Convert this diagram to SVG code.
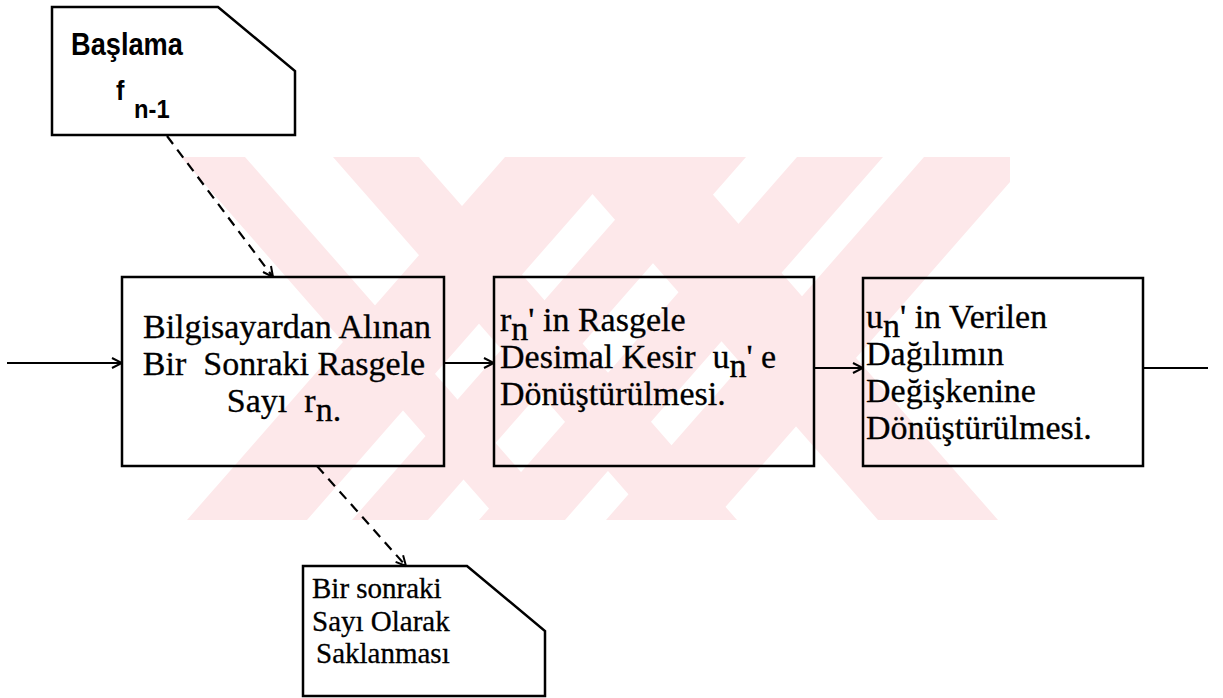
<svg xmlns="http://www.w3.org/2000/svg" width="1223" height="698" viewBox="0 0 1223 698">
<style>
.box{fill:none;stroke:#000;stroke-width:2.5}
.ln{fill:none;stroke:#000;stroke-width:2.2}
.dash{fill:none;stroke:#000;stroke-width:2.2;stroke-dasharray:10 7}
.t{font-family:"Liberation Serif","Times New Roman",serif;font-size:34px;fill:#000;stroke:#000;stroke-width:0.3;white-space:pre}
.t2{font-family:"Liberation Serif","Times New Roman",serif;font-size:29px;fill:#000;stroke:#000;stroke-width:0.3;white-space:pre}
.b{font-family:"Liberation Sans Narrow","Liberation Sans",Arial,sans-serif;font-weight:bold;fill:#000}
.wm{fill:#fde8ea}
</style>
<defs>
<marker id="arr" viewBox="0 0 12 12" refX="11" refY="6" markerWidth="12" markerHeight="12" markerUnits="userSpaceOnUse" orient="auto">
<path d="M1,1 L11,6 L1,11" fill="none" stroke="#000" stroke-width="2"/>
</marker>
<clipPath id="wmclip"><rect x="160" y="157" width="850" height="363"/></clipPath>
</defs>
<rect width="1223" height="698" fill="#fff"/>
<g id="watermark" clip-path="url(#wmclip)">
<polygon class="wm" points="181,157 245,157 563,520 499,520"/>
<polygon class="wm" points="333,157 419,157 737,520 651,520"/>
<polygon class="wm" points="505,157 625,157 307,520 187,520"/>
<polygon class="wm" points="670,157 746,157 428,520 352,520"/>
<polygon class="wm" points="797,157 883,157 565,520 479,520"/>
<polygon class="wm" points="924,157 1032,157 714,520 606,520"/>
<polygon class="wm" points="560,157 680,157 998,520 878,520"/>
</g>
<g id="connectors">
<line class="ln" x1="7" y1="363" x2="122" y2="363" marker-end="url(#arr)"/>
<line class="ln" x1="444" y1="363" x2="494" y2="363" marker-end="url(#arr)"/>
<line class="ln" x1="814" y1="368" x2="863" y2="368" marker-end="url(#arr)"/>
<line class="ln" x1="1143" y1="368" x2="1208" y2="368"/>
<line class="dash" x1="167" y1="136" x2="273" y2="277" marker-end="url(#arr)"/>
<line class="dash" x1="317" y1="466" x2="406" y2="566" marker-end="url(#arr)"/>
</g>
<g id="start">
<polygon class="box" points="52,7 218,7 295,71 295,135 52,135"/>
<text class="b" font-size="32" transform="translate(71,55) scale(0.85,1)">Başlama</text>
<text class="b" font-size="28" transform="translate(116,100) scale(0.9,1)">f</text>
<text class="b" font-size="25" transform="translate(134,118) scale(0.95,1)">n-1</text>
</g>
<g id="box1">
<rect class="box" x="122" y="277" width="322" height="189"/>
<text class="t" text-anchor="middle" x="287" y="338">Bilgisayardan Alınan</text>
<text class="t" text-anchor="middle" x="284" y="375">Bir  Sonraki Rasgele</text>
<text class="t" text-anchor="middle" x="284" y="412">Sayı  r<tspan dy="9">n.</tspan></text>
</g>
<g id="box2">
<rect class="box" x="494" y="277" width="320" height="189"/>
<text class="t" x="500" y="331">r<tspan dy="9">n</tspan><tspan dy="-9">' in Rasgele</tspan></text>
<text class="t" x="500" y="368">Desimal Kesir  u<tspan dy="9">n</tspan><tspan dy="-9">' e</tspan></text>
<text class="t" x="500" y="405">Dönüştürülmesi.</text>
</g>
<g id="box3">
<rect class="box" x="863" y="278" width="280" height="188"/>
<text class="t" x="866" y="328">u<tspan dy="9">n</tspan><tspan dy="-9">' in Verilen</tspan></text>
<text class="t" x="866" y="365">Dağılımın</text>
<text class="t" x="866" y="402">Değişkenine</text>
<text class="t" x="866" y="439">Dönüştürülmesi.</text>
</g>
<g id="store">
<polygon class="box" points="303,566 467,566 545,631 545,696 303,696"/>
<text class="t2" x="312" y="598">Bir sonraki</text>
<text class="t2" x="312" y="631">Sayı Olarak</text>
<text class="t2" x="316" y="663">Saklanması</text>
</g>
</svg>
